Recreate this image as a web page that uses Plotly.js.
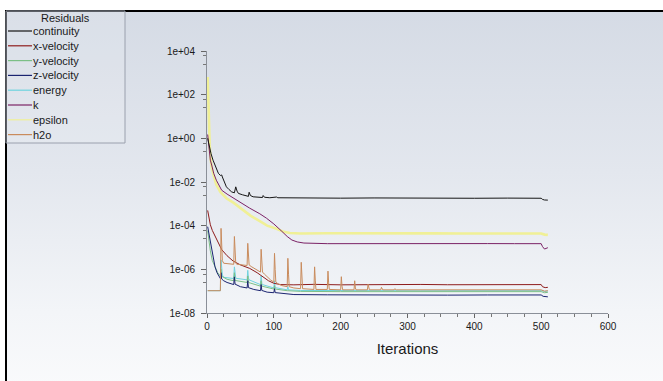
<!DOCTYPE html>
<html><head><meta charset="utf-8">
<script src="https://cdn.plot.ly/plotly-3.0.1.min.js"></script>
<style>
html,body{margin:0;padding:0;background:#fff;width:663px;height:381px;overflow:hidden;}
#bg{position:absolute;left:5px;top:10px;width:700px;height:400px;border-top:2px solid #000;border-left:2px solid #000;
background:linear-gradient(to bottom,#d5dbe5 0%,#e3e7ee 40%,#f3f5f8 75%,#fbfcfd 100%);}
#chart{position:absolute;left:0;top:0;width:663px;height:381px;}
</style></head><body><div id="bg"></div><div id="chart"></div>
<script>
// ---- data ----
const seriesNames = ['continuity','x-velocity','y-velocity','z-velocity','energy','k','epsilon','h2o'];

const continuityIter = [1,3,6,9,13,17,20,22,23,26,29,33,37,41,43,45,47,53,59,62,63,65,69,75,83,84,86,94,104,106,130,170,200,250,300,350,400,450,500,502,505,510];
const continuityVal  = [1.0,0.5,0.2,0.1,0.05,0.025,0.02,0.021,0.017,0.009,0.006,0.0045,0.0035,0.0032,0.006,0.0038,0.003,0.0026,0.0023,0.0022,0.0034,0.0024,0.0021,0.002,0.00195,0.0024,0.002,0.0019,0.00205,0.0019,0.00185,0.0019,0.00182,0.00186,0.0018,0.00184,0.0018,0.00183,0.0018,0.0016,0.0015,0.00148];

const xVelIter = [1,3,5,8,12,16,20,22,30,39,50,64,75,84,92,100,110,130,160,200,240,280,320,360,400,440,480,500,502,506,510];
const xVelVal  = [5e-4,2e-4,1.1e-4,6e-5,3.2e-5,1.7e-5,1e-5,8e-6,4.2e-6,2.4e-6,1.6e-6,1.1e-6,7e-7,4.6e-7,3e-7,2.3e-7,2e-7,1.95e-7,2.05e-7,1.95e-7,2.02e-7,1.96e-7,2.03e-7,1.97e-7,2e-7,1.96e-7,2.02e-7,2e-7,1.6e-7,1.45e-7,1.5e-7];

const yVelIter = [1,3,5,8,12,16,20,21,22,25,30,40,41,42,60,61,62,80,81,82,100,101,102,120,140,200,260,320,380,440,500,505,510];
const yVelVal  = [6e-5,2e-5,7e-6,2.5e-6,1.2e-6,7e-7,5e-7,1e-6,4.8e-7,4.2e-7,3.5e-7,3e-7,7e-7,3.1e-7,2.5e-7,5e-7,2.5e-7,1.7e-7,3e-7,1.7e-7,1.25e-7,1.8e-7,1.25e-7,1.05e-7,9.8e-8,9.5e-8,9.6e-8,9.4e-8,9.6e-8,9.5e-8,9.5e-8,8.5e-8,8.8e-8];

const zVelIter = [1,3,5,7,9,12,15,19,20,21,22,25,30,40,41,42,50,60,61,62,70,80,81,82,90,100,101,102,114,121,130,180,240,300,360,420,480,500,503,510];
const zVelVal  = [9e-5,4e-5,1.6e-5,8e-6,3.5e-6,1.3e-6,7e-7,4e-7,3.8e-7,7e-7,3.6e-7,3e-7,2.5e-7,2e-7,4.5e-7,2.1e-7,1.6e-7,1.4e-7,3e-7,1.45e-7,1.2e-7,1.05e-7,2e-7,1.08e-7,9e-8,8.5e-8,1.3e-7,8.6e-8,7.8e-8,7.5e-8,7e-8,6.8e-8,6.6e-8,6.8e-8,6.6e-8,6.7e-8,6.6e-8,6.7e-8,5.8e-8,5.5e-8];

const energyIter = [1,20,21,22,23,25,30,40,41,42,43,60,61,62,63,80,81,82,83,100,101,102,120,121,122,140,200,260,320,380,440,500,505,510];
const energyVal  = [1.05e-7,1.05e-7,2.7e-6,9e-7,5.5e-7,4.3e-7,4.1e-7,3.8e-7,1.3e-6,5e-7,3.9e-7,3.3e-7,9e-7,4e-7,3.3e-7,2e-7,5e-7,2.3e-7,2e-7,1.4e-7,3e-7,1.45e-7,1.15e-7,1.6e-7,1.15e-7,1.08e-7,1.05e-7,1.06e-7,1.04e-7,1.05e-7,1.06e-7,1.05e-7,9.8e-8,1e-7];

const kIter = [1,2,3,5,7,10,14,18,22,30,44,64,79,89,100,104,112,120,127,135,145,180,220,260,300,340,380,420,460,500,502,505,510];
const kVal  = [1.5,0.6,0.3,0.1,0.06,0.025,0.012,0.0065,0.0042,0.0028,0.0015,0.00063,0.00035,0.00022,0.00012,9e-5,5.5e-5,3.2e-5,2.2e-5,1.8e-5,1.6e-5,1.5e-5,1.52e-5,1.5e-5,1.49e-5,1.52e-5,1.5e-5,1.51e-5,1.5e-5,1.5e-5,1.1e-5,8.5e-6,9.8e-6];

const epsilonIter = [1,2,4,5,7,10,14,20,29,40,54,65,79,90,104,115,124,140,180,220,260,300,340,380,420,460,500,505,510];
const epsilonVal  = [650,20,0.5,0.15,0.05,0.02,0.0075,0.0035,0.0018,0.0011,0.00055,0.00029,0.00016,0.0001,7.2e-5,5.2e-5,4.6e-5,4.4e-5,4.5e-5,4.4e-5,4.45e-5,4.4e-5,4.45e-5,4.4e-5,4.42e-5,4.4e-5,4.4e-5,3.9e-5,3.8e-5];

const h2oIter = [1,20,21,22,23,25,30,35,40,41,42,43,45,50,55,60,61,62,63,66,70,75,80,81,82,83,86,90,95,100,101,102,103,107,112,120,121,122,123,130,140,141,142,143,160,161,162,163,180,181,182,183,200,201,202,203,220,221,222,223,240,241,243,260,261,263,280,281,283,320,380,440,500,505,510];
const h2oVal  = [1.05e-7,1.05e-7,7.5e-5,8e-6,2.5e-6,1.9e-6,1.8e-6,1.75e-6,1.7e-6,3.2e-5,4e-6,1.9e-6,1.7e-6,1.65e-6,1.6e-6,1.5e-6,1.55e-5,3e-6,1.6e-6,1.35e-6,1.15e-6,9e-7,7.5e-7,8.3e-6,1.6e-6,7.5e-7,6e-7,4.5e-7,3.3e-7,2.6e-7,5.4e-6,1e-6,2.6e-7,2.1e-7,1.8e-7,1.6e-7,3.2e-6,6e-7,1.6e-7,1.4e-7,1.3e-7,2.1e-6,4.5e-7,1.3e-7,1.2e-7,1.3e-6,3.2e-7,1.2e-7,1.2e-7,8.3e-7,2.4e-7,1.2e-7,1.15e-7,4.6e-7,1.7e-7,1.15e-7,1.15e-7,3e-7,1.4e-7,1.15e-7,1.15e-7,2.1e-7,1.15e-7,1.15e-7,1.5e-7,1.15e-7,1.15e-7,1.3e-7,1.15e-7,1.14e-7,1.16e-7,1.15e-7,1.15e-7,1e-7,1.05e-7];

const xTickVals = [0,100,200,300,400,500,600];
const yTickVals = [1e-8,1e-6,1e-4,1e-2,1e0,1e2,1e4];
const yTickText = ['1e-08','1e-06','1e-04','1e-02','1e+00','1e+02','1e+04'];
const yMinorVals = [6e-7,2.5e-7,6e-5,2.5e-5,6e-3,2.5e-3,0.6,0.25,60,25,6000,2500];

// ---- styles ----
const colors = {
  'continuity':'#151515','x-velocity':'#8e1c1c','y-velocity':'#7cbf86','z-velocity':'#1b2470',
  'energy':'#6fd3df','k':'#7b2266','epsilon':'#f0f096','h2o':'#c98b5c'
};
const widths = {'epsilon':2.6};
const FONT = 'Liberation Sans, Arial, sans-serif';

const dataMap = {
  'continuity':[continuityIter,continuityVal],
  'x-velocity':[xVelIter,xVelVal],
  'y-velocity':[yVelIter,yVelVal],
  'z-velocity':[zVelIter,zVelVal],
  'energy':[energyIter,energyVal],
  'k':[kIter,kVal],
  'epsilon':[epsilonIter,epsilonVal],
  'h2o':[h2oIter,h2oVal]
};
const drawOrder = ['epsilon','k','continuity','energy','y-velocity','z-velocity','x-velocity','h2o'];
const traces = drawOrder.map(n => ({
  type:'scatter', mode:'lines', name:n,
  x:dataMap[n][0], y:dataMap[n][1],
  line:{color:colors[n], width:widths[n]||1},
  hoverinfo:'skip'
}));

// pixel -> paper helpers for the hand-made legend
const L=207, T=51, W=401, H=262;
const px = x => (x-L)/W;
const py = y => (T+H-y)/H;

const shapes = [{type:'rect', xref:'paper', yref:'paper', x0:px(6), x1:px(125), y0:py(11), y1:py(143),
  line:{color:'#9aa0ad', width:1}, fillcolor:'rgba(255,255,255,0.12)', layer:'below'}];
const annotations = [{xref:'paper', yref:'paper', x:px(65), y:py(18), text:'Residuals', showarrow:false,
  xanchor:'center', yanchor:'middle', font:{family:FONT, size:11, color:'#1a1a1a'}}];
seriesNames.forEach((n,i) => {
  const yy = 31 + i*14.8;
  shapes.push({type:'line', xref:'paper', yref:'paper', x0:px(8), x1:px(32), y0:py(yy), y1:py(yy),
    line:{color:colors[n], width:1.2}});
  annotations.push({xref:'paper', yref:'paper', x:px(31), y:py(yy), text:n, showarrow:false,
    xanchor:'left', yanchor:'middle', font:{family:FONT, size:11, color:'#1a1a1a'}});
});

const layout = {
  width:663, height:381, margin:{l:L, r:663-L-W, t:T, b:381-T-H, pad:0},
  paper_bgcolor:'rgba(0,0,0,0)', plot_bgcolor:'rgba(0,0,0,0)', showlegend:false,
  font:{family:FONT, color:'#1a1a1a'},
  xaxis:{range:[0,600], tickmode:'array', tickvals:xTickVals, ticks:'outside', ticklen:4, tickwidth:1,
    tickcolor:'#666', showline:true, linecolor:'#8a8f98', linewidth:1, showgrid:false, zeroline:false,
    tickfont:{family:FONT, size:10, color:'#1a1a1a'},
    minor:{dtick:25, tick0:0, ticks:'outside', ticklen:2.5, tickcolor:'#777', showgrid:false},
    title:{text:'Iterations', font:{family:FONT, size:15, color:'#1a1a1a'}, standoff:12}},
  yaxis:{type:'log', range:[-8,4], tickmode:'array', tickvals:yTickVals, ticktext:yTickText,
    ticks:'outside', ticklen:5, tickwidth:1, tickcolor:'#666', showline:true, linecolor:'#8a8f98', linewidth:1,
    showgrid:false, zeroline:false, tickfont:{family:FONT, size:10, color:'#1a1a1a'}, ticklabelstandoff:4,
    minor:{tickmode:'array', tickvals:yMinorVals, ticks:'outside', ticklen:3, tickcolor:'#777', showgrid:false}},
  shapes:shapes, annotations:annotations
};
Plotly.newPlot('chart', traces, layout, {staticPlot:true, displayModeBar:false});
</script></body></html>
